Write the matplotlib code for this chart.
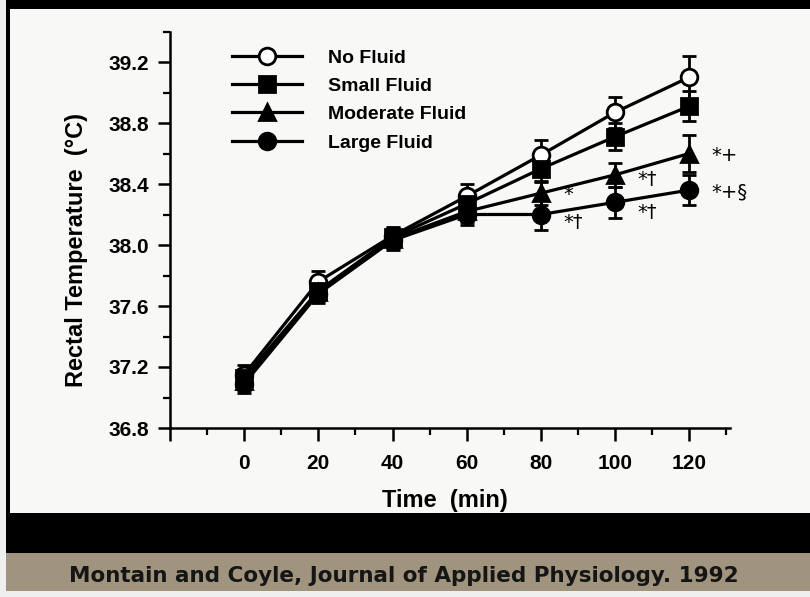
import matplotlib
matplotlib.use('Agg')
import matplotlib.pyplot as plt
from matplotlib.ticker import MultipleLocator
from matplotlib.patches import Rectangle
from matplotlib.lines import Line2D

# data
time_min = [0, 20, 40, 60, 80, 100, 120]
no_fluid = [37.15, 37.76, 38.06, 38.32, 38.59, 38.87, 39.10]
small_fluid = [37.13, 37.70, 38.05, 38.27, 38.50, 38.71, 38.91]
moderate_fluid = [37.11, 37.69, 38.04, 38.22, 38.34, 38.46, 38.60]
large_fluid = [37.09, 37.68, 38.03, 38.20, 38.20, 38.28, 38.36]
no_fluid_err = [0.06, 0.07, 0.06, 0.08, 0.10, 0.10, 0.14]
small_fluid_err = [0.06, 0.06, 0.06, 0.07, 0.09, 0.09, 0.10]
moderate_fluid_err = [0.06, 0.06, 0.06, 0.07, 0.08, 0.08, 0.12]
large_fluid_err = [0.06, 0.06, 0.06, 0.07, 0.10, 0.10, 0.10]

series = [
    ('No Fluid', no_fluid, no_fluid_err, 'o', 'white'),
    ('Small Fluid', small_fluid, small_fluid_err, 's', 'black'),
    ('Moderate Fluid', moderate_fluid, moderate_fluid_err, '^', 'black'),
    ('Large Fluid', large_fluid, large_fluid_err, 'o', 'black'),
]

# significance marks: (time, value, text)
sig_marks = [
    (80, 38.33, '*'),
    (80, 38.15, '*†'),
    (100, 38.43, '*†'),
    (100, 38.21, '*†'),
    (120, 38.59, '*+'),
    (120, 38.35, '*+§'),
]

plt.rcParams['font.family'] = ['Liberation Sans', 'DejaVu Sans']

fig = plt.figure(figsize=(8.1, 5.97), dpi=100)
fig.patch.set_facecolor('#efefef')

# screenshot frame: black border, white panel, black band, caption strip
W, H = 810, 597
def px_rect(x0, y0, x1, y1, color):
    fig.patches.append(Rectangle((x0 / W, 1 - y1 / H), (x1 - x0) / W, (y1 - y0) / H,
                                 transform=fig.transFigure, facecolor=color,
                                 edgecolor='none', zorder=-10))

px_rect(6, 0, 810, 591, 'black')
px_rect(10, 9, 810, 513, '#f8f9f7')
px_rect(6, 553, 810, 591, '#a1947f')

fig.text(404 / W, 1 - 576 / H, 'Montain and Coyle, Journal of Applied Physiology. 1992',
         ha='center', va='center', fontsize=15.5, fontweight='bold',
         family='DejaVu Sans', color='#151515')

ax = fig.add_axes([170 / W, 1 - 428 / H, 560 / W, (428 - 31.5) / H])
ax.set_facecolor('none')

handles = []
for label, vals, errs, mk, fc in series:
    ms = 12 if mk != 's' else 11
    ax.errorbar(time_min, vals, yerr=errs, color='black', lw=2.3, marker=mk,
                markersize=ms, markerfacecolor=fc,
                markeredgecolor='black', markeredgewidth=2,
                elinewidth=2, capsize=5, capthick=2, clip_on=False)
    handles.append(Line2D([], [], color='black', lw=2.3, marker=mk, markersize=ms,
                          markerfacecolor=fc, markeredgecolor='black',
                          markeredgewidth=2, label=label))

for t, v, txt in sig_marks:
    ax.text(t + 6, v, txt, fontsize=14, ha='left', va='center', family='DejaVu Sans')

ax.set_xlim(-20, 131)
ax.set_ylim(36.8, 39.4)
ax.spines['top'].set_visible(False)
ax.spines['right'].set_visible(False)
ax.spines['left'].set_linewidth(1.8)
ax.spines['bottom'].set_linewidth(1.8)

ax.set_xticks([-20, 0, 20, 40, 60, 80, 100, 120])
ax.set_xticklabels(['', '0', '20', '40', '60', '80', '100', '120'], fontweight='bold')
ax.xaxis.set_minor_locator(MultipleLocator(10))
ax.set_yticks([36.8, 37.2, 37.6, 38.0, 38.4, 38.8, 39.2])
ax.set_yticklabels(['36.8', '37.2', '37.6', '38.0', '38.4', '38.8', '39.2'], fontweight='bold')
ax.yaxis.set_minor_locator(MultipleLocator(0.2))
ax.tick_params(which='major', length=9, width=1.8, labelsize=15)
ax.tick_params(axis='x', which='major', pad=10)
ax.tick_params(axis='y', which='major', pad=6)
ax.tick_params(which='minor', length=5, width=1.6)

ax.set_xlabel('Time  (min)', fontsize=17, fontweight='bold')
ax.xaxis.set_label_coords((445 - 170) / 560, -(500 - 428) / 396.5)
ax.set_ylabel('Rectal Temperature  (°C)', fontsize=17, fontweight='bold')
ax.yaxis.set_label_coords(-(170 - 76) / 560, (428 - 250) / 396.5)
ax.xaxis.label.set_va('center')
ax.yaxis.label.set_va('center')

ax.legend(handles=handles, loc='upper left', bbox_to_anchor=(0.08, 1.0), frameon=False,
          prop={'size': 14, 'weight': 'bold'}, handlelength=3.6, labelspacing=0.55,
          handletextpad=1.3)

fig.savefig('out.png', dpi=100)
